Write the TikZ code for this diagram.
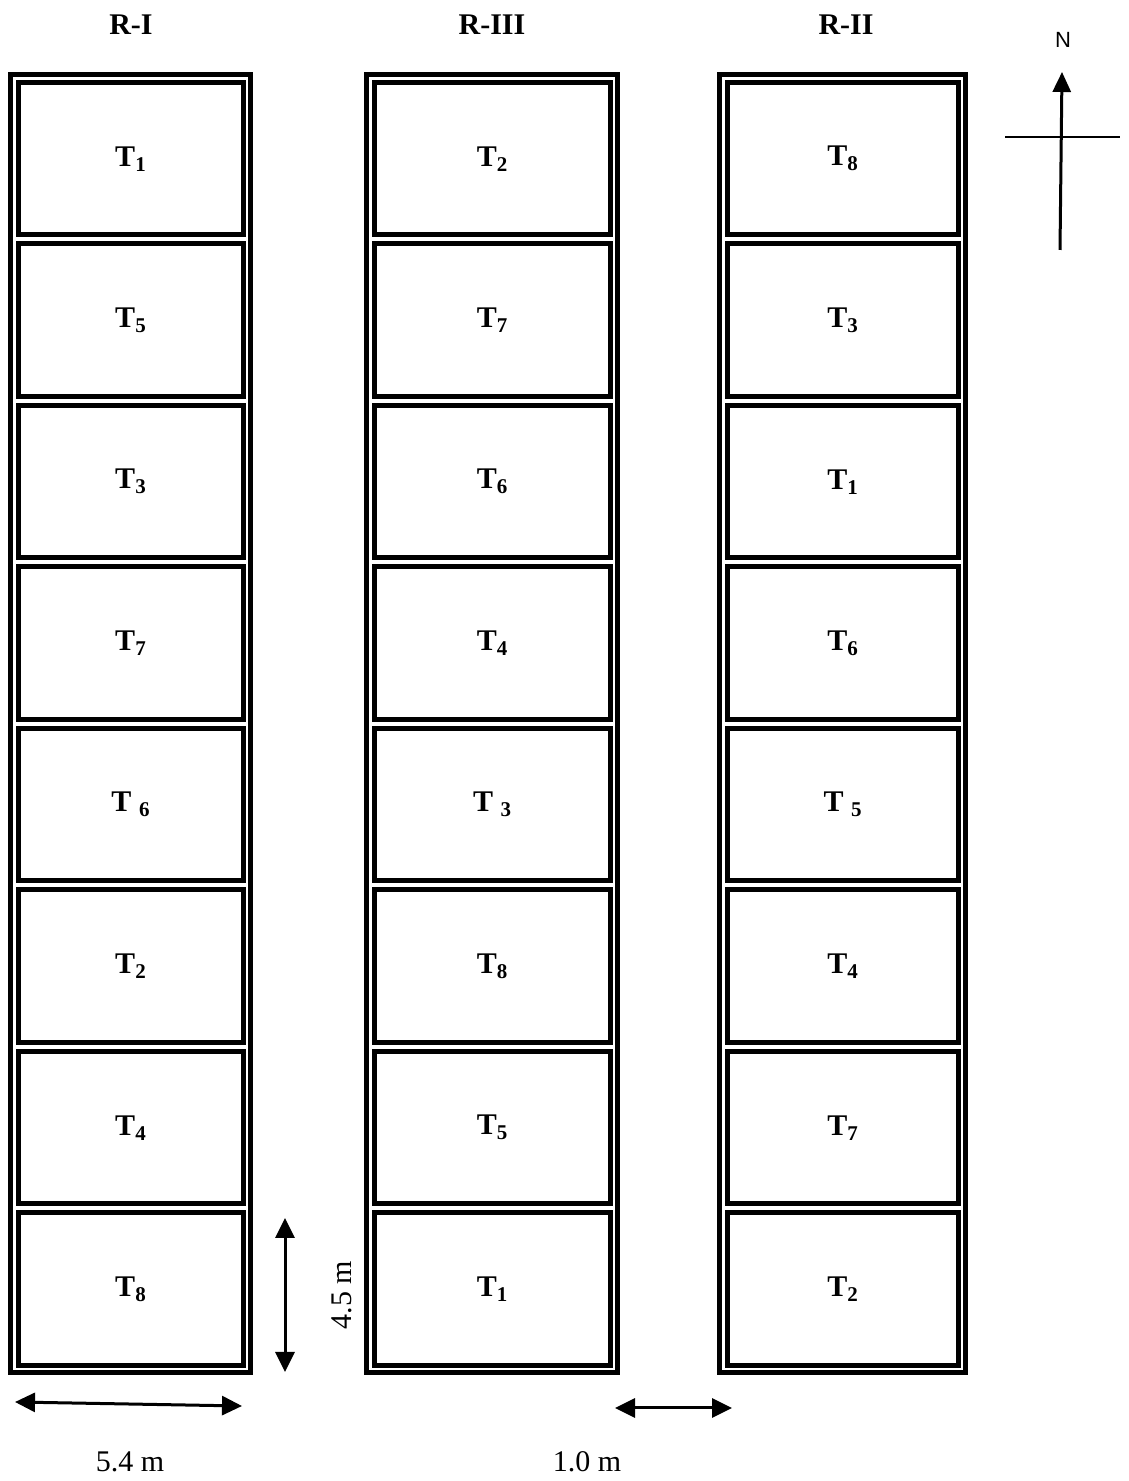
\documentclass[tikz,border=0pt]{standalone}
\usepackage{fontspec}
\setmainfont{Liberation Serif}
\newfontfamily\compassfont{Liberation Sans}
\usetikzlibrary{positioning, arrows.meta, fit}
\newcommand{\tsub}[1]{\raisebox{-5pt}{\fontsize{21}{24}\selectfont #1}}

\begin{document}
\begin{tikzpicture}[x=1pt, y=1pt,
    plotbox/.style={draw, line width=5pt, minimum height=152.5pt,
      inner sep=0pt, outer sep=0pt, font=\bfseries\fontsize{30}{36}\selectfont},
    repframe/.style={draw, line width=5pt, inner sep=7.5pt, outer sep=0pt},
    reptitle/.style={font=\bfseries\fontsize{30}{36}\selectfont},
    dimlabel/.style={font=\fontsize{30}{36}\selectfont},
    dimarrow/.style={line width=3pt,
      {Triangle[length=20pt,width=19pt]}-{Triangle[length=20pt,width=19pt]}},
    node distance=9pt,
  ]
    \useasboundingbox (0,0) rectangle (1128,1481);

    % replication I
    \node[plotbox, minimum width=225pt, anchor=north] (a1) at (130.5,1398.5) {T\tsub{1}};
    \node[plotbox, minimum width=225pt, below=of a1] (a2) {T\tsub{5}};
    \node[plotbox, minimum width=225pt, below=of a2] (a3) {T\tsub{3}};
    \node[plotbox, minimum width=225pt, below=of a3] (a4) {T\tsub{7}};
    \node[plotbox, minimum width=225pt, below=of a4] (a5) {T \tsub{6}};
    \node[plotbox, minimum width=225pt, below=of a5] (a6) {T\tsub{2}};
    \node[plotbox, minimum width=225pt, below=of a6] (a7) {T\tsub{4}};
    \node[plotbox, minimum width=225pt, below=of a7] (a8) {T\tsub{8}};
    \node[repframe, fit=(a1)(a8)] (repA) {};

    % replication III
    \node[plotbox, minimum width=236pt, anchor=north] (b1) at (492,1398.5) {T\tsub{2}};
    \node[plotbox, minimum width=236pt, below=of b1] (b2) {T\tsub{7}};
    \node[plotbox, minimum width=236pt, below=of b2] (b3) {T\tsub{6}};
    \node[plotbox, minimum width=236pt, below=of b3] (b4) {T\tsub{4}};
    \node[plotbox, minimum width=236pt, below=of b4] (b5) {T \tsub{3}};
    \node[plotbox, minimum width=236pt, below=of b5] (b6) {T\tsub{8}};
    \node[plotbox, minimum width=236pt, below=of b6] (b7) {T\tsub{5}};
    \node[plotbox, minimum width=236pt, below=of b7] (b8) {T\tsub{1}};
    \node[repframe, fit=(b1)(b8)] (repB) {};

    % replication II
    \node[plotbox, minimum width=231pt, anchor=north] (c1) at (842.5,1398.5) {T\tsub{8}};
    \node[plotbox, minimum width=231pt, below=of c1] (c2) {T\tsub{3}};
    \node[plotbox, minimum width=231pt, below=of c2] (c3) {T\tsub{1}};
    \node[plotbox, minimum width=231pt, below=of c3] (c4) {T\tsub{6}};
    \node[plotbox, minimum width=231pt, below=of c4] (c5) {T \tsub{5}};
    \node[plotbox, minimum width=231pt, below=of c5] (c6) {T\tsub{4}};
    \node[plotbox, minimum width=231pt, below=of c6] (c7) {T\tsub{7}};
    \node[plotbox, minimum width=231pt, below=of c7] (c8) {T\tsub{2}};
    \node[repframe, fit=(c1)(c8)] (repC) {};

    \node[reptitle] (tA) at (131,1456) {R-I};
    \node[reptitle] (tB) at (492,1456) {R-III};
    \node[reptitle] (tC) at (846,1456) {R-II};

    % north sign
    \node[font=\compassfont\fontsize{22}{26}\selectfont] (north) at (1063,1441) {N};
    \coordinate (ns) at (1060,1231);
    \coordinate (nn) at (1062,1409);
    \coordinate (cw) at (1005,1344);
    \coordinate (ce) at (1120,1344);
    \draw[line width=3pt, -{Triangle[length=20pt,width=18pt]}] (ns) -- (nn);
    \draw[line width=2.5pt] (cw) -- (ce);

    % dimensions
    \coordinate (ht) at (285,263);
    \coordinate (hb) at (285,109);
    \draw[dimarrow] (ht) -- (hb);
    \node[dimlabel, rotate=90] (hlbl) at (342,186) {4.5 m};

    \coordinate (wl) at (15,79);
    \coordinate (wr) at (242,75);
    \draw[dimarrow] (wl) -- (wr);
    \node[dimlabel] (wlbl) at (130,19) {5.4 m};

    \coordinate (gl) at (615,73);
    \coordinate (gr) at (732,73);
    \draw[dimarrow] (gl) -- (gr);
    \node[dimlabel] (glbl) at (587,19) {1.0 m};
  \end{tikzpicture}
\end{document}
